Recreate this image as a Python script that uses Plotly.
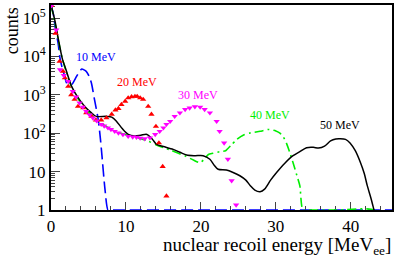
import plotly.graph_objects as go

# ---- data ----
x_50 = [0, 0.5, 1.0, 1.5, 2.0, 2.75, 3.5, 4.5, 5.4, 6.0, 7.4, 8.1, 8.7, 9.5, 10.3, 11.2, 12.0, 12.8,
        13.5, 14.1, 15.0, 16.3, 17.2, 18.1, 19.2, 20.3, 21.2, 21.8, 22.3, 23.4, 24.3, 25.2, 26.0, 26.6,
        27.2, 27.9, 28.5, 29.3, 30.1, 31.2, 32.3, 33.2, 34.1, 35.0, 35.7, 36.5, 37.3, 38.0, 38.6, 39.3,
        39.9, 40.6, 41.3, 41.8, 42.2, 42.7, 43.1, 43.5]
y_50 = [2.2e5, 8.9e4, 2.7e4, 8900, 4500, 1660, 910, 500, 340, 275, 275, 263, 209, 132, 93, 85, 89, 93,
        71, 51, 45, 38, 32, 27, 26, 26, 21, 14.5, 11.5, 11, 9.5, 7.8, 6.0, 4.3,
        3.3, 3.0, 3.5, 6.0, 9.5, 16.6, 26, 33, 42, 43, 41, 46, 63, 71, 72, 69,
        56, 35, 17, 8.9, 4.3, 2.0, 1.0, 0.5]

x_40 = [0, 0.5, 1.0, 1.5, 2.0, 2.75, 3.5, 4.5, 5.4, 6.0, 7.0, 8.0, 9.0, 10.0, 11.0, 12.0, 13.0, 14.0,
        15.0, 16.0, 17.0, 18.0, 19.0, 19.9, 20.5, 21.0, 21.6, 22.5, 23.3, 24.0, 24.8, 25.7, 26.6, 27.9,
        29.0, 30.0, 30.5, 31.0, 31.4, 31.9, 32.3, 32.8, 33.2, 33.6, 34.3, 38.0, 43.0, 43.4]
y_40 = [2.2e5, 8.0e4, 2.5e4, 8900, 4200, 1580, 850, 460, 295, 230, 166, 126, 105, 91, 83, 72, 62, 50,
        42, 36, 30, 25, 20, 17, 22, 28, 30, 33, 35, 48, 69, 90, 102, 112,
        125, 115, 102, 80, 56, 30, 17, 8, 4.3, 1.0, 1.0, 1.0, 1.0, 0.5]

x_10 = [0, 0.3, 0.6, 0.95, 1.2, 1.5, 1.8, 2.1, 2.75, 3.4, 4.1, 4.7, 5.1, 5.4, 5.8, 6.3, 6.6, 6.8,
        7.2, 7.6, 8.0, 20.0, 45.5]
y_10 = [2.2e5, 1.3e5, 5e4, 2.2e4, 9000, 5000, 3200, 2000, 1860, 3000, 4700, 4100, 3000, 2000, 760,
        230, 69, 26, 3.5, 1.0, 1.0, 1.0, 1.0]

x_20 = [0.05, 0.6, 1.15, 1.6, 1.85, 2.3, 2.7, 3.15, 3.6, 4.3, 4.7, 5.4, 6.0, 6.7, 7.4, 8.1, 8.6, 9.0,
        9.4, 9.9, 10.3, 10.75, 11.2, 11.5, 11.9, 12.3, 12.97, 13.4, 14.0, 14.4, 14.9, 15.4]
y_20 = [2.1e5, 4.0e4, 7400, 4100, 2750, 1660, 1000, 760, 500, 460, 340, 275, 220, 220, 250, 310, 400, 440,
        560, 680, 830, 890, 910, 910, 830, 760, 500, 310, 150, 56, 13.5, 2.3]

x_30 = [0.05, 0.7, 1.2, 1.7, 2.3, 2.9, 3.35, 3.8, 4.25, 4.7, 5.15, 5.6, 6.1, 6.7, 7.1, 7.6, 8.0, 8.5,
        9.0, 9.6, 10.3, 10.9, 11.4, 11.9, 12.5, 13.2, 13.9, 14.5, 15.0, 15.4, 15.9, 16.5, 17.2, 17.9,
        18.5, 19.2, 19.9, 20.5, 21.2, 22.1, 22.5, 23.1, 23.6, 24.1, 24.7]
y_30 = [2.1e5, 4.9e4, 4500, 3200, 2240, 1230, 880, 620, 480, 370, 300, 250, 210, 170, 155, 138, 125, 112,
        102, 92, 83, 80, 79, 75, 72, 76, 93, 112, 138, 170, 204, 275, 340, 417,
        457, 490, 479, 417, 340, 204, 112, 56, 21, 5.8, 1.35]

y_tickvals = [1, 10, 100, 1000, 10000, 100000]
y_ticktext = ["1", "10", "10<sup>2</sup>", "10<sup>3</sup>", "10<sup>4</sup>", "10<sup>5</sup>"]
energies = ["10 MeV", "20 MeV", "30 MeV", "40 MeV", "50 MeV"]

FONT = "Liberation Serif"

fig = go.Figure()
fig.add_trace(go.Scatter(x=x_10, y=y_10, mode="lines",
                         line=dict(color="#0000ff", width=1.6, dash="12px,5px", shape="spline", smoothing=0.6)))
fig.add_trace(go.Scatter(x=x_40, y=y_40, mode="lines",
                         line=dict(color="#00ee00", width=1.6, dash="9px,4px,2px,4px", shape="spline", smoothing=0.6)))
fig.add_trace(go.Scatter(x=x_50, y=y_50, mode="lines",
                         line=dict(color="black", width=1.5, shape="spline", smoothing=0.8)))
fig.add_trace(go.Scatter(x=x_20, y=y_20, mode="markers",
                         marker=dict(symbol="triangle-up", color="#ff0000", size=5.5)))
fig.add_trace(go.Scatter(x=x_30, y=y_30, mode="markers",
                         marker=dict(symbol="triangle-down", color="#ff00ff", size=5.5)))

label_pos = [(6.0, 3.98, "#0000ff"), (11.5, 3.33, "#ff0000"), (19.6, 2.99, "#ff00ff"),
             (29.2, 2.47, "#00ee00"), (38.5, 2.21, "black")]
for txt, (ax, ay, col) in zip(energies, label_pos):
    fig.add_annotation(x=ax, y=ay, xref="x", yref="y", text=txt, showarrow=False,
                       font=dict(family=FONT, size=12, color=col))

fig.add_annotation(x=-0.115, y=1.0, xref="paper", yref="paper", text="counts", textangle=-90,
                   showarrow=False, xanchor="center", yanchor="top",
                   font=dict(family=FONT, size=18, color="black"))
fig.add_annotation(x=0.322, y=-0.175, xref="paper", yref="paper",
                   text="nuclear recoil energy [MeV<sub>ee</sub>]",
                   showarrow=False, xanchor="left", yanchor="middle",
                   font=dict(family=FONT, size=19, color="black"))

minor_y = [m * 10 ** d for d in range(0, 6) for m in range(2, 10)]

fig.update_layout(
    width=399, height=260,
    margin=dict(l=51, r=7, t=5, b=50),
    paper_bgcolor="white", plot_bgcolor="white",
    showlegend=False,
    font=dict(family=FONT, size=17, color="black"),
    xaxis=dict(range=[0, 45.5], dtick=10, tick0=0, ticks="inside", ticklen=8, tickwidth=1,
               showgrid=False, zeroline=False, showline=True, linewidth=2, linecolor="black",
               mirror=True, layer="below traces", automargin=False, ticklabelstandoff=0,
               minor=dict(dtick=2, ticks="inside", ticklen=4, tickwidth=1, showgrid=False),
               tickfont=dict(family=FONT, size=17)),
    yaxis=dict(type="log", range=[0, 5.34], tickvals=y_tickvals, ticktext=y_ticktext,
               ticks="inside", ticklen=9, tickwidth=1, showgrid=False, zeroline=False,
               showline=True, linewidth=2, linecolor="black", mirror=True, layer="below traces",
               automargin=False,
               minor=dict(tickvals=minor_y, ticks="inside", ticklen=4, tickwidth=1, showgrid=False),
               tickfont=dict(family=FONT, size=17)),
)

fig.write_html("out.html", config={"displayModeBar": False},
               post_script="document.body.style.margin='0px';")
